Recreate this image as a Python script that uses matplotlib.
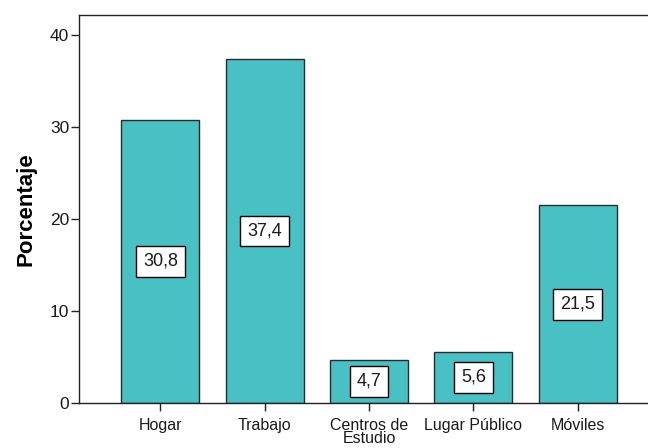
import matplotlib
matplotlib.use("Agg")
import matplotlib.pyplot as plt

categories = ["Hogar", "Trabajo", "Centros de\nEstudio", "Lugar Público", "Móviles"]
values = [30.8, 37.4, 4.7, 5.6, 21.5]
value_labels = ["30,8", "37,4", "4,7", "5,6", "21,5"]
y_ticks = [0, 10, 20, 30, 40]

plt.rcParams["font.family"] = ["Liberation Sans", "DejaVu Sans"]

fig = plt.figure(figsize=(6.48, 4.48), dpi=100)
ax = fig.add_axes([79 / 648, 45 / 448, 580 / 648, 388 / 448])

x = range(len(categories))
bars = ax.bar(x, values, width=0.75, color="#48c1c4", edgecolor="#2b2b2b", linewidth=1)

for bar, lab, v in zip(bars, value_labels, values):
    ax.text(bar.get_x() + bar.get_width() / 2, v / 2, lab, ha="center", va="center",
            fontsize=13, color="#1a1a1a",
            bbox=dict(boxstyle="square,pad=0.38", facecolor="white", edgecolor="black", linewidth=1))

ax.set_xlim(-0.78, 4.78)
ax.set_ylim(0, 42.2)
ax.set_xticks(list(x))
ax.set_xticklabels(categories, fontsize=11.5, linespacing=0.85, color="#1a1a1a")
ax.set_yticks(y_ticks)
ax.tick_params(axis="y", labelsize=12.5, length=6, width=1, color="#222222", pad=1,
               labelcolor="#1a1a1a")
ax.tick_params(axis="x", length=6, width=1, color="#222222", pad=5)
ax.set_ylabel("Porcentaje", fontsize=16, fontweight="bold", labelpad=10)

ax.spines["right"].set_visible(False)
for s in ["left", "top", "bottom"]:
    ax.spines[s].set_color("#222222")
    ax.spines[s].set_linewidth(1)

fig.savefig("out.png", dpi=100)
